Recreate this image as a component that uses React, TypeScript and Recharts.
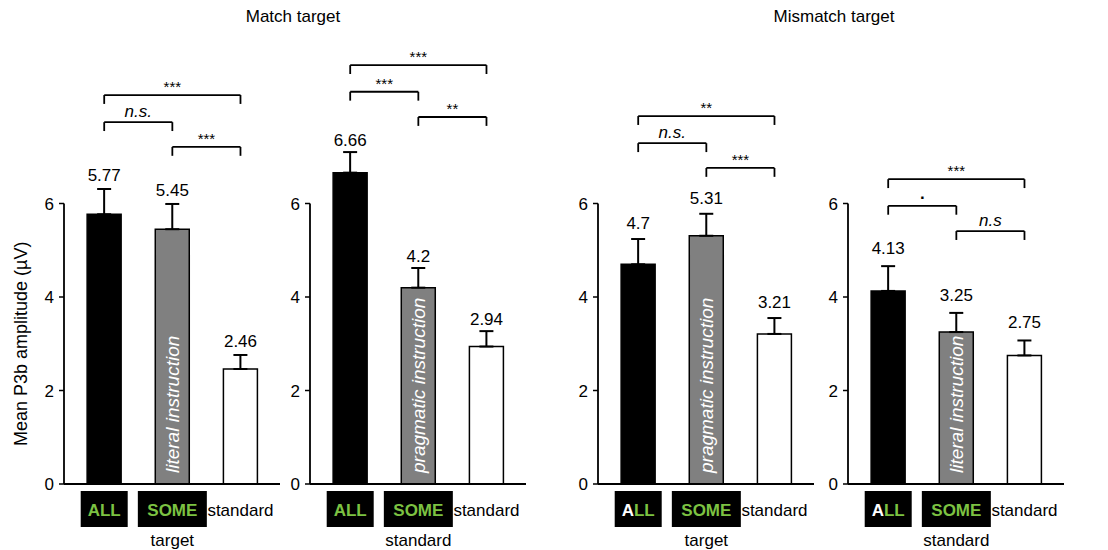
// ============================================================================
// P3b amplitude by quantifier condition — four bar panels with brackets
// ============================================================================

import {
  ComposedChart,
  Bar,
  Cell,
  XAxis,
  YAxis,
  ErrorBar,
  LabelList,
  ReferenceLine,
  ReferenceDot,
} from 'recharts';

// ---------------------------------------------------------------------------
// Data
// ---------------------------------------------------------------------------
const categories = ['ALL', 'SOME', 'standard'];
const categoryPos = [1, 2, 3];
const groupTitles = ['Match target', 'Mismatch target'];
const instructionNotes = [
  'literal instruction',
  'pragmatic instruction',
  'pragmatic instruction',
  'literal instruction',
];
const someRoles = ['target', 'standard', 'target', 'standard'];
const yTicks = [0, 2, 4, 6];
const yLabel = 'Mean P3b amplitude (µV)';

const matchLiteralMeans = [5.77, 5.45, 2.46];
const matchLiteralErrors = [0.54, 0.54, 0.3];
const matchPragmaticMeans = [6.66, 4.2, 2.94];
const matchPragmaticErrors = [0.44, 0.42, 0.33];
const mismatchPragmaticMeans = [4.7, 5.31, 3.21];
const mismatchPragmaticErrors = [0.54, 0.47, 0.34];
const mismatchLiteralMeans = [4.13, 3.25, 2.75];
const mismatchLiteralErrors = [0.53, 0.41, 0.32];

// [from, to, level (µV), label]
type Bracket = [number, number, number, string];
const matchLiteralBrackets: Bracket[] = [
  [1, 3, 8.32, '***'],
  [1, 2, 7.74, 'n.s.'],
  [2, 3, 7.21, '***'],
];
const matchPragmaticBrackets: Bracket[] = [
  [1, 3, 8.96, '***'],
  [1, 2, 8.39, '***'],
  [2, 3, 7.85, '**'],
];
const mismatchPragmaticBrackets: Bracket[] = [
  [1, 3, 7.87, '**'],
  [1, 2, 7.29, 'n.s.'],
  [2, 3, 6.76, '***'],
];
const mismatchLiteralBrackets: Bracket[] = [
  [1, 3, 6.52, '***'],
  [1, 2, 5.95, '.'],
  [2, 3, 5.41, 'n.s'],
];

// ---------------------------------------------------------------------------
// Layout / style
// ---------------------------------------------------------------------------
const FONT = '"Liberation Sans", Arial, Helvetica, sans-serif';
const GREEN = '#7cc242';
const BAR_FILLS = ['#000000', '#808080', '#ffffff'];
const X_DOMAIN: [number, number] = [0.41, 3.58];
const Y_DOMAIN: [number, number] = [0, 10];
const PLOT_W = 216;
const RIGHT_PAD = 60;
const BRACKET_TICK = 0.19;

const CategoryTick = (props: any) => {
  const { x, y, payload, whiteA, role } = props;
  const i = categoryPos.indexOf(payload.value);
  const name = categories[i];
  if (i === 0) {
    return (
      <g>
        <rect x={x - 23.5} y={y + 7} width={47} height={36} fill="#000" />
        <text x={x} y={y + 26} textAnchor="middle" dominantBaseline="central"
          fontWeight="bold" fontSize={17} fill={GREEN}>
          {whiteA ? (
            <>
              <tspan fill="#fff">{name.slice(0, 1)}</tspan>
              <tspan>{name.slice(1)}</tspan>
            </>
          ) : name}
        </text>
      </g>
    );
  }
  if (i === 1) {
    return (
      <g>
        <rect x={x - 34.5} y={y + 7} width={69} height={36} fill="#000" />
        <text x={x} y={y + 26} textAnchor="middle" dominantBaseline="central"
          fontWeight="bold" fontSize={17} fill={GREEN}>
          {name}
        </text>
        <text x={x} y={y + 56} textAnchor="middle" dominantBaseline="central"
          fontSize={17} fill="#000">
          {role}
        </text>
      </g>
    );
  }
  return (
    <text x={x} y={y + 26} textAnchor="middle" dominantBaseline="central"
      fontSize={17} fill="#000">
      {name}
    </text>
  );
};

interface PanelProps {
  means: number[];
  errors: number[];
  brackets: Bracket[];
  note: string;
  role: string;
  whiteA: boolean;
  axisX: number;
  yAxisWidth: number;
  showYLabel: boolean;
  valueGap: number;
}

function Panel({
  means, errors, brackets, note, role, whiteA, axisX, yAxisWidth, showYLabel, valueGap,
}: PanelProps) {
  const data = categories.map((name, i) => ({
    name,
    pos: categoryPos[i],
    mean: means[i],
    err: [0, errors[i]],
  }));

  // italic note inside the SOME bar
  const noteContent = (props: any) => {
    const vb = props.viewBox ?? props;
    const idx = props.index;
    if (idx !== 1 && !(idx === undefined && props.value === means[1])) return null;
    const cx = vb.x + vb.width / 2;
    const by = vb.y + vb.height - 11;
    return (
      <text x={cx} y={by} transform={`rotate(-90, ${cx}, ${by})`} textAnchor="start"
        dominantBaseline="central" fontStyle="italic" fontSize={19} fill="#fff">
        {note}
      </text>
    );
  };

  // axis title centred on the 0–6 span
  const yLabelContent = (props: any) => {
    const vb = props.viewBox ?? { x: 0, y: 16.5, width: yAxisWidth, height: 467.5 };
    const tx = 21;
    const ty = vb.y + vb.height * 0.7;
    return (
      <text x={tx} y={ty} transform={`rotate(-90, ${tx}, ${ty})`} textAnchor="middle"
        dominantBaseline="central" fontSize={18} fill="#000">
        {yLabel}
      </text>
    );
  };

  return (
    <div style={{ position: 'absolute', left: axisX - yAxisWidth, top: 0 }}>
      <ComposedChart
        width={yAxisWidth + PLOT_W + RIGHT_PAD}
        height={550}
        data={data}
        margin={{ top: 16.5, right: RIGHT_PAD, bottom: 0, left: 0 }}
      >
        <XAxis
          type="number"
          dataKey="pos"
          domain={X_DOMAIN}
          ticks={categoryPos}
          interval={0}
          allowDataOverflow
          height={66}
          axisLine={false}
          tickLine={false}
          tickSize={0}
          tickMargin={0}
          tick={(p: any) => <CategoryTick {...p} whiteA={whiteA} role={role} />}
        />
        <YAxis
          type="number"
          domain={Y_DOMAIN}
          ticks={yTicks}
          allowDataOverflow
          width={yAxisWidth}
          axisLine={false}
          tickSize={5}
          tickMargin={5}
          tickLine={{ stroke: '#000', strokeWidth: 1.5 }}
          tick={{ fill: '#000', fontSize: 17 }}
          label={showYLabel ? yLabelContent : undefined}
        />

        {/* axis lines: y only up to 6, x along zero */}
        <ReferenceLine
          segment={[{ x: X_DOMAIN[0], y: 0 }, { x: X_DOMAIN[0], y: yTicks[yTicks.length - 1] }]}
          stroke="#000" strokeWidth={1.8} ifOverflow="visible"
        />
        <ReferenceLine
          segment={[{ x: X_DOMAIN[0], y: 0 }, { x: X_DOMAIN[1], y: 0 }]}
          stroke="#000" strokeWidth={1.8} ifOverflow="visible"
        />

        <Bar dataKey="mean" barSize={34} stroke="#000" strokeWidth={1.5} isAnimationActive={false}>
          {data.map((d, i) => (
            <Cell key={d.name} fill={BAR_FILLS[i]} />
          ))}
          <ErrorBar dataKey="err" width={7} stroke="#000" strokeWidth={2} isAnimationActive={false} />
          <LabelList dataKey="mean" content={noteContent} />
        </Bar>

        {/* value labels above error bars */}
        {data.map((d, i) => (
          <ReferenceDot
            key={`v-${d.name}`}
            x={d.pos}
            y={means[i] + errors[i]}
            r={0}
            fill="none"
            stroke="none"
            ifOverflow="visible"
            label={{ value: String(means[i]), position: 'top', offset: valueGap, fontSize: 17, fill: '#000' }}
          />
        ))}

        {/* significance brackets */}
        {brackets.flatMap(([a, b, level, text], k) => {
          const isStars = text.includes('*');
          return [
            <ReferenceLine key={`bh-${k}`} segment={[{ x: a, y: level }, { x: b, y: level }]}
              stroke="#000" strokeWidth={1.8} ifOverflow="visible" />,
            <ReferenceLine key={`bl-${k}`} segment={[{ x: a, y: level }, { x: a, y: level - BRACKET_TICK }]}
              stroke="#000" strokeWidth={1.8} ifOverflow="visible" />,
            <ReferenceLine key={`br-${k}`} segment={[{ x: b, y: level }, { x: b, y: level - BRACKET_TICK }]}
              stroke="#000" strokeWidth={1.8} ifOverflow="visible" />,
            <ReferenceDot key={`bt-${k}`} x={(a + b) / 2} y={level} r={0} fill="none" stroke="none"
              ifOverflow="visible"
              label={{
                value: text,
                position: 'top',
                offset: isStars ? 3 : text === '.' ? 7 : 5,
                fontSize: isStars ? 15 : 17,
                fontStyle: isStars || text === '.' ? 'normal' : 'italic',
                fontWeight: text === '.' ? 'bold' : 'normal',
                fill: '#000',
              }}
            />,
          ];
        })}
      </ComposedChart>
    </div>
  );
}

const panels = [
  { means: matchLiteralMeans, errors: matchLiteralErrors, brackets: matchLiteralBrackets, axisX: 64, gap: 8 },
  { means: matchPragmaticMeans, errors: matchPragmaticErrors, brackets: matchPragmaticBrackets, axisX: 310, gap: 6 },
  { means: mismatchPragmaticMeans, errors: mismatchPragmaticErrors, brackets: mismatchPragmaticBrackets, axisX: 598, gap: 10 },
  { means: mismatchLiteralMeans, errors: mismatchLiteralErrors, brackets: mismatchLiteralBrackets, axisX: 848, gap: 12 },
];

export default function App() {
  return (
    <div
      style={{
        position: 'absolute',
        left: 0,
        top: 0,
        width: 1108,
        height: 550,
        background: '#fff',
        fontFamily: FONT,
        overflow: 'hidden',
      }}
    >
      {panels.map((p, i) => (
        <Panel
          key={i}
          means={p.means}
          errors={p.errors}
          brackets={p.brackets}
          note={instructionNotes[i]}
          role={someRoles[i]}
          whiteA={i >= 2}
          axisX={p.axisX}
          yAxisWidth={i === 0 ? 64 : 50}
          showYLabel={i === 0}
          valueGap={p.gap}
        />
      ))}
      {groupTitles.map((t, i) => (
        <div
          key={t}
          style={{
            position: 'absolute',
            top: 7,
            left: i === 0 ? 193 : 734,
            width: 200,
            textAlign: 'center',
            fontSize: 17,
            color: '#000',
          }}
        >
          {t}
        </div>
      ))}
    </div>
  );
}
